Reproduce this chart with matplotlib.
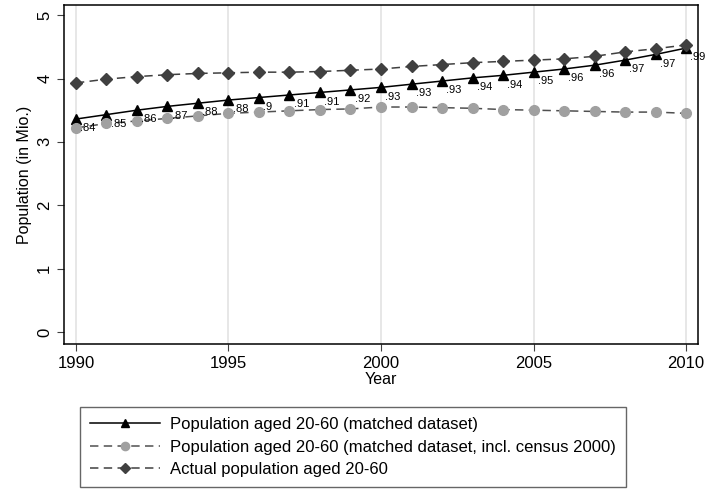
import numpy as np
import matplotlib.pyplot as plt

plt.rcParams['font.family'] = ['Liberation Sans', 'DejaVu Sans']

years = list(range(1990, 2011))
matched = [3.36, 3.43, 3.50, 3.56, 3.61, 3.66, 3.70, 3.74, 3.78, 3.82, 3.86,
           3.91, 3.96, 4.01, 4.05, 4.10, 4.15, 4.21, 4.29, 4.38, 4.48]
census = [3.22, 3.29, 3.33, 3.37, 3.41, 3.45, 3.47, 3.49, 3.51, 3.52, 3.55,
          3.55, 3.54, 3.53, 3.51, 3.50, 3.49, 3.48, 3.47, 3.47, 3.45]
actual = [3.93, 3.99, 4.03, 4.06, 4.08, 4.09, 4.10, 4.10, 4.11, 4.13, 4.15,
          4.19, 4.22, 4.25, 4.27, 4.29, 4.31, 4.35, 4.42, 4.47, 4.53]
ratio_labels = [".84", ".85", ".86", ".87", ".88", ".88", ".9", ".91", ".91", ".92", ".93",
                ".93", ".93", ".94", ".94", ".95", ".96", ".96", ".97", ".97", ".99"]

fig = plt.figure(figsize=(7.07, 4.9), dpi=100)
ax = fig.add_axes([64 / 707, 1 - 344 / 490, 634 / 707, 339 / 490])

dash = (0, (5.5, 3.5))
ax.plot(years, matched, color="black", lw=1.1, marker="^", ms=7.5,
        label="Population aged 20-60 (matched dataset)")
ax.plot(years, census, color="#505050", lw=1.1, ls=dash, marker="o", ms=7,
        mfc="#a0a0a0", mec="#a0a0a0",
        label="Population aged 20-60 (matched dataset, incl. census 2000)")
ax.plot(years, actual, color="#404040", lw=1.1, ls=dash, marker="D", ms=6.5,
        mfc="#404040", mec="#404040",
        label="Actual population aged 20-60")

for x, y, t in zip(years, matched, ratio_labels):
    ax.annotate(t, (x, y), xytext=(3, -3), textcoords="offset points",
                ha="left", va="top", fontsize=8, annotation_clip=False)

ax.set_xlim(1989.61, 2010.39)
ax.set_ylim(-0.19, 5.16)
ax.set_xticks([1990, 1995, 2000, 2005, 2010])
ax.set_yticks([0, 1, 2, 3, 4, 5])
ax.grid(axis="x", color="#e3e3e3", lw=1.2)
ax.set_axisbelow(True)
ax.tick_params(axis="both", labelsize=12, length=5, color="#404040")
for lab in ax.get_yticklabels():
    lab.set_rotation(90)
    lab.set_va("center")
ax.set_xlabel("Year", fontsize=11.5, labelpad=1)
ax.set_ylabel("Population (in Mio.)", fontsize=11.5, labelpad=4)
for s in ax.spines.values():
    s.set_linewidth(1.1)

leg = fig.legend(loc="lower left", bbox_to_anchor=(80 / 707, 3 / 490),
                 fontsize=12, frameon=True, fancybox=False, handlelength=4.2,
                 handletextpad=0.6, numpoints=1, markerscale=0.85,
                 borderpad=0.6, labelspacing=0.45, borderaxespad=0)
leg.get_frame().set_edgecolor("#404040")
leg.get_frame().set_linewidth(1.0)

fig.savefig("out.png", dpi=100)
